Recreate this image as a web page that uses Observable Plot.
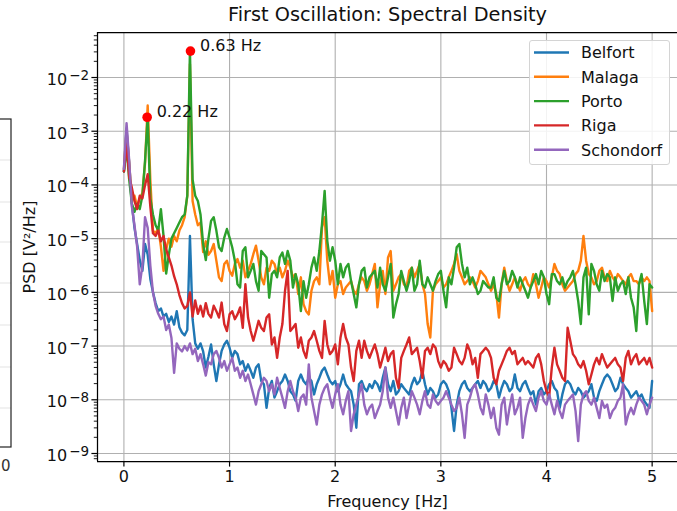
<!DOCTYPE html>
<html>
<head>
<meta charset="utf-8">
<script src="https://cdn.jsdelivr.net/npm/d3@7"></script>
<script src="https://cdn.jsdelivr.net/npm/@observablehq/plot@0.6"></script>
<style>
  html, body { margin: 0; padding: 0; background: #fff; }
  #wrap { position: relative; width: 677px; height: 511px; overflow: hidden; font-family: "DejaVu Sans", sans-serif; }
  #wrap > svg { position: absolute; left: 0; top: 0; }
  .legend { position: absolute; box-sizing: border-box; border: 1px solid #d4d4d4; border-radius: 3px; background: rgba(255,255,255,0.85); }
</style>
</head>
<body>
<div id="wrap"></div>
<script>
// ---------------- data ----------------
const title = "First Oscillation: Spectral Density";
const xLabel = "Frequency [Hz]";
const yLabel = "PSD [V²/Hz]";
const seriesNames = ["Belfort", "Malaga", "Porto", "Riga", "Schondorf"];
const seriesColors = ["#1f77b4", "#ff7f0e", "#2ca02c", "#d62728", "#9467bd"];
const freqStep = 0.025;          // Hz between spectral bins (0 … 5 Hz)
const xTicks = [0, 1, 2, 3, 4, 5];
const yExponents = [-9, -8, -7, -6, -5, -4, -3, -2];
const minorMultipliers = [2, 3, 4, 5, 6, 7, 8, 9];
const peakFreqs = [0.22, 0.63];
const peakPsd = [1.82e-3, 3.1e-2];

// log10(PSD), one value per bin
const belfortLog = [
  -3.75,-2.95,-3.6,-4.35,-4.8,-5.1,-5.4,-5.6,-5.1,-5.3,-5.75,-6.0,-6.2,-6.35,-6.3,-6.45,-6.4,-6.55,-6.45,-6.6,-6.35,-6.65,-6.75,-6.8,-6.7,-4.95,-6.5,-6.95,-7.05,-6.95,-7.1,-7.4,-7.2,
  -6.97,-7.34,-7.65,-7.34,-7.09,-6.97,-6.90,-7.03,-7.22,-7.09,-7.15,-7.34,-7.28,-7.46,-7.34,-7.46,-7.59,-7.40,-7.34,-7.65,-7.71,-8.15,-7.78,-7.65,-7.96,-7.84,-7.71,-7.65,-7.53,-7.65,-7.84,-7.90,-8.02,-7.65,
  -7.53,-7.65,-7.71,-7.59,-7.65,-7.90,-7.71,-7.59,-7.46,-7.40,-7.53,-7.65,-7.71,-7.65,-7.84,-7.71,-7.53,-7.71,-7.78,-7.84,-8.09,-8.52,-7.71,-7.65,-7.78,-7.84,-7.71,-7.78,-7.65,-7.71,-7.84,-7.59,-7.40,-7.71,
  -7.84,-7.65,-7.90,-7.84,-7.71,-7.78,-7.84,-7.90,-7.71,-7.59,-7.71,-7.65,-7.46,-7.71,-7.90,-7.78,-7.84,-7.96,-7.90,-7.71,-7.65,-7.71,-7.84,-8.15,-8.58,-8.09,-7.84,-7.71,-7.65,-7.78,-7.84,-7.78,-7.71,-7.65,
  -7.78,-7.65,-7.71,-7.84,-7.78,-7.65,-7.71,-7.96,-7.78,-7.65,-7.71,-7.84,-7.78,-7.53,-7.78,-7.84,-7.71,-7.65,-7.78,-7.90,-7.84,-8.09,-7.84,-7.78,-7.90,-7.84,-7.71,-7.65,-7.78,-7.84,-8.15,-7.90,-7.71,-7.65,
  -7.71,-7.84,-7.90,-7.78,-7.84,-7.96,-7.90,-7.84,-7.71,-7.96,-8.02,-7.84,-7.71,-7.59,-7.53,-7.59,-7.71,-7.84,-7.78,-7.59,-7.71,-7.78,-7.84,-7.96,-7.90,-7.84,-7.96,-7.90,-8.02,-8.09,-8.15,-7.65
];
const malagaLog = [
  -3.7,-3.0,-3.6,-4.3,-4.2,-4.4,-4.25,-4.15,-3.6,-2.52,-3.9,-4.85,-4.9,-4.8,-5.15,-5.6,-5.2,-5.0,-5.15,-4.95,-5.05,-4.85,-4.75,-4.6,-4.2,-1.75,-4.3,-4.55,-4.75,-4.7,-5.25,-5.05,-5.3,
  -5.23,-5.10,-5.41,-5.72,-5.79,-5.47,-5.41,-5.60,-5.69,-5.47,-5.38,-5.54,-5.41,-5.72,-5.60,-5.47,-5.29,-5.13,-5.41,-5.72,-5.85,-5.54,-5.60,-5.41,-5.47,-5.66,-5.54,-5.72,-5.60,-5.41,-5.54,-5.72,-5.66,-6.03,
  -5.72,-6.22,-6.35,-6.41,-5.97,-5.79,-5.72,-5.85,-4.79,-4.60,-5.41,-5.85,-5.60,-6.10,-5.85,-5.79,-6.03,-5.91,-5.85,-5.79,-5.97,-6.03,-5.85,-5.72,-5.79,-5.97,-5.85,-5.66,-5.47,-6.28,-5.85,-5.60,-6.03,-5.35,
  -5.23,-5.97,-5.85,-5.72,-5.66,-5.85,-5.91,-5.60,-5.54,-5.72,-5.60,-5.47,-5.85,-6.03,-6.59,-6.84,-5.97,-5.85,-5.79,-5.72,-5.91,-5.85,-5.72,-5.60,-5.47,-5.29,-5.60,-5.72,-5.85,-5.79,-5.72,-5.79,-5.91,-5.79,
  -5.60,-5.66,-5.72,-5.85,-5.97,-5.85,-6.03,-6.47,-5.85,-5.54,-5.79,-5.97,-5.85,-5.72,-5.85,-5.97,-5.79,-5.72,-5.85,-5.91,-5.66,-5.85,-6.10,-5.91,-5.72,-5.79,-5.91,-5.72,-5.47,-5.60,-5.66,-5.85,-5.97,-5.91,
  -5.85,-5.79,-5.66,-5.60,-5.41,-4.95,-5.41,-5.66,-5.72,-5.85,-5.79,-5.60,-5.54,-5.72,-5.79,-5.60,-5.72,-5.79,-5.66,-5.72,-5.79,-5.85,-5.72,-5.66,-5.79,-5.79,-5.85,-5.72,-5.79,-5.72,-5.79,-6.35
];
const portoLog = [
  -3.75,-3.3,-3.9,-4.35,-4.5,-4.35,-4.45,-4.2,-3.55,-2.73,-4.25,-4.55,-4.75,-4.85,-4.45,-4.95,-5.65,-5.3,-5.0,-4.9,-4.8,-4.7,-4.6,-4.55,-4.2,-1.5,-3.9,-4.2,-4.3,-4.55,-5.1,-5.4,-5.0,
  -4.67,-4.60,-4.85,-5.16,-5.23,-4.98,-4.82,-4.98,-5.16,-5.41,-5.85,-5.91,-5.23,-5.16,-5.72,-5.60,-5.47,-5.79,-5.97,-5.23,-5.29,-5.35,-6.10,-5.66,-5.60,-5.72,-5.35,-5.26,-5.47,-5.23,-5.41,-5.91,-5.66,-5.85,
  -6.35,-5.79,-6.10,-5.85,-5.54,-5.35,-5.60,-5.23,-4.73,-4.11,-5.04,-5.41,-5.16,-5.41,-5.85,-5.47,-5.72,-5.54,-5.47,-5.79,-6.03,-6.28,-5.85,-5.60,-5.54,-5.91,-5.72,-5.66,-5.60,-5.91,-5.54,-5.85,-5.97,-5.72,
  -5.47,-6.47,-6.22,-6.03,-5.60,-5.79,-5.97,-5.79,-5.54,-5.97,-5.85,-5.41,-5.85,-5.91,-5.72,-5.85,-5.97,-5.79,-5.66,-5.60,-5.97,-6.28,-5.72,-5.85,-5.54,-5.16,-5.10,-5.47,-5.72,-5.54,-5.85,-5.72,-5.85,-6.03,
  -5.97,-5.79,-5.85,-5.91,-5.91,-5.72,-6.10,-6.16,-5.85,-5.60,-5.85,-5.79,-5.60,-5.72,-5.91,-5.72,-5.85,-5.97,-6.10,-5.91,-5.79,-5.66,-5.85,-5.60,-5.72,-6.03,-6.22,-5.66,-5.66,-5.79,-5.85,-5.72,-5.91,-5.79,
  -5.72,-5.60,-5.85,-6.16,-6.59,-5.72,-5.54,-6.41,-5.47,-5.60,-5.85,-5.97,-5.60,-5.79,-5.66,-5.72,-6.16,-5.72,-5.97,-5.85,-5.79,-6.03,-5.72,-6.10,-6.28,-6.72,-5.85,-5.66,-6.16,-6.59,-5.85,-5.91
];
const rigaLog = [
  -3.75,-3.2,-3.85,-4.05,-4.3,-4.45,-4.2,-4.25,-4.0,-3.8,-4.4,-4.9,-4.95,-4.85,-5.05,-4.95,-5.2,-5.35,-5.5,-5.7,-5.85,-6.05,-6.2,-6.3,-6.25,-6.0,-6.45,-6.15,-6.4,-6.25,-6.45,-6.2,-6.4,
  -6.47,-6.25,-6.35,-6.47,-6.19,-6.59,-6.72,-6.41,-6.35,-6.50,-6.41,-6.28,-6.66,-5.85,-6.47,-6.72,-6.90,-6.72,-6.53,-6.66,-6.72,-6.47,-6.41,-6.97,-6.84,-7.22,-6.84,-6.59,-5.97,-5.60,-6.72,-6.66,-6.59,-7.03,
  -6.84,-7.09,-7.22,-6.90,-6.84,-6.72,-6.90,-7.09,-7.22,-6.53,-6.97,-7.15,-7.09,-6.97,-7.34,-6.84,-6.59,-6.84,-6.97,-7.40,-7.65,-7.09,-6.90,-7.22,-6.90,-7.09,-7.22,-7.09,-6.97,-7.15,-7.40,-7.22,-7.03,-7.28,
  -7.15,-7.09,-7.59,-7.78,-7.22,-7.09,-6.97,-6.84,-7.15,-7.09,-7.03,-7.28,-7.59,-7.09,-7.03,-7.15,-6.97,-7.03,-7.28,-7.40,-7.28,-7.34,-7.46,-7.40,-7.03,-7.15,-7.28,-7.34,-7.22,-6.97,-7.09,-7.34,-7.22,-7.59,
  -7.15,-7.09,-7.03,-7.09,-7.22,-7.59,-7.71,-7.46,-7.34,-7.22,-7.09,-7.03,-7.15,-7.09,-7.34,-7.28,-7.22,-7.34,-7.28,-7.34,-7.40,-7.22,-7.15,-7.34,-7.65,-7.84,-7.95,-7.40,-7.03,-7.34,-7.46,-7.59,-7.65,-6.66,
  -6.90,-7.15,-7.22,-7.34,-7.40,-7.28,-7.46,-7.71,-7.53,-7.34,-7.22,-7.34,-7.15,-7.28,-7.40,-7.34,-7.28,-7.22,-7.34,-7.40,-7.65,-7.22,-7.09,-7.34,-7.22,-7.15,-7.34,-7.28,-7.22,-7.34,-7.22,-7.40
];
const schondorfLog = [
  -3.70,-2.85,-3.55,-4.40,-4.75,-5.15,-5.85,-5.50,-4.60,-4.80,-5.50,-6.00,-6.25,-6.40,-6.50,-6.45,-6.70,-6.60,-6.85,-7.50,-6.95,-7.05,-7.10,-7.00,-7.08,-6.95,-7.15,-7.05,-7.28,-7.15,-7.34,-7.55,-7.30,
  -7.34,-7.15,-7.09,-7.22,-7.40,-7.28,-7.46,-7.34,-7.22,-7.46,-7.40,-7.59,-7.46,-7.65,-7.53,-7.71,-7.90,-8.09,-7.84,-7.71,-7.59,-7.65,-7.84,-7.71,-7.90,-7.59,-7.78,-7.96,-8.15,-7.84,-7.65,-7.84,-7.96,-8.21,
  -7.96,-7.90,-8.09,-7.34,-7.96,-8.21,-8.46,-8.09,-7.90,-7.78,-7.71,-7.96,-8.15,-7.90,-7.71,-8.09,-8.27,-8.02,-7.84,-8.58,-8.27,-8.09,-7.90,-7.71,-8.09,-8.27,-8.15,-8.09,-8.34,-8.21,-8.09,-7.84,-7.40,-7.96,
  -8.15,-7.96,-8.21,-8.46,-8.15,-7.96,-8.34,-8.09,-7.84,-7.96,-8.09,-8.27,-8.02,-7.84,-8.09,-8.15,-7.90,-8.02,-8.09,-8.02,-7.96,-7.84,-7.96,-8.09,-8.21,-8.15,-7.96,-8.27,-8.71,-8.09,-7.96,-7.78,-7.71,-7.90,
  -8.15,-8.27,-7.90,-8.09,-8.34,-8.15,-8.52,-8.65,-8.09,-7.96,-8.46,-8.15,-7.90,-8.27,-8.15,-7.96,-8.71,-8.34,-8.09,-7.96,-8.09,-8.21,-7.96,-7.84,-8.02,-8.09,-7.90,-8.09,-8.27,-8.02,-8.21,-8.34,-8.09,-8.02,
  -7.96,-7.90,-8.21,-8.77,-8.09,-7.90,-7.84,-8.02,-8.09,-7.96,-8.15,-8.34,-8.02,-8.15,-8.09,-8.34,-8.21,-8.15,-8.02,-7.96,-7.71,-8.46,-8.27,-8.15,-8.27,-8.09,-7.96,-8.02,-8.09,-8.27,-8.09,-7.96
];
const seriesLog = [belfortLog, malagaLog, portoLog, rigaLog, schondorfLog];

// ---------------- build tables ----------------
const seriesRows = seriesLog.map((vals, s) =>
  vals.map((v, i) => ({name: seriesNames[s], f: +(i * freqStep).toFixed(3), psd: Math.pow(10, v)}))
);
const peaks = peakFreqs.map((f, i) => ({f, psd: peakPsd[i], label: f.toFixed(2) + " Hz"}));
const yMajor = yExponents.map(e => Math.pow(10, e));
const yMinor = [];
for (let e = -10; e <= -2; e++) for (const m of minorMultipliers) yMinor.push(m * Math.pow(10, e));

const xDomain = [-0.25, 5.24];
const yDomain = [Math.pow(10, -9.149), Math.pow(10, -1.162)];
const yMinorIn = yMinor.filter(v => v >= yDomain[0] && v <= yDomain[1]);

const W = 677, H = 511;
const font = "DejaVu Sans";
const textColor = "#111";

const marks = [
  Plot.gridX(xTicks, {stroke: "#b0b0b0", strokeOpacity: 1, strokeWidth: 1.1}),
  Plot.gridY(yMajor, {stroke: "#b0b0b0", strokeOpacity: 1, strokeWidth: 1.1}),
];
seriesRows.forEach((rows, s) => {
  marks.push(Plot.line(rows, {x: "f", y: "psd", stroke: seriesColors[s], strokeWidth: 2.4, strokeLinejoin: "round"}));
});
marks.push(
  Plot.dot(peaks, {x: "f", y: "psd", r: 4.8, fill: "#ff0000", stroke: "none"}),
  Plot.text(peaks, {x: "f", y: "psd", text: "label", dx: 9.5, textAnchor: "start", lineAnchor: "bottom", fontSize: 16, fill: textColor}),
  // spines
  Plot.ruleY([yDomain[1]], {stroke: "#000", strokeWidth: 1.25}),
  Plot.ruleY([yDomain[0]], {stroke: "#000", strokeWidth: 1.25}),
  Plot.ruleX([xDomain[0]], {stroke: "#000", strokeWidth: 1.25}),
  // axes
  Plot.axisX({ticks: xTicks, tickSize: 5.6, tickPadding: 3.6, tickFormat: d => String(d), label: null, fontSize: 16, stroke: "#000", strokeWidth: 1.2, fill: textColor}),
  Plot.axisY({ticks: yMajor, tickSize: 5.6, tickFormat: () => "", label: null, stroke: "#000", strokeWidth: 1.2}),
  Plot.axisY({ticks: yMinorIn, tickSize: 3.2, tickFormat: () => "", label: null, stroke: "#000", strokeWidth: 0.9}),
  Plot.text(yMajor, {frameAnchor: "left", y: d => d, text: () => "10", textAnchor: "end", lineAnchor: "bottom", dx: -30.3, dy: 7.5, fontSize: 16, fill: textColor}),
  Plot.text(yMajor, {frameAnchor: "left", y: d => d, text: d => "\u2212" + Math.abs(Math.round(Math.log10(d))), textAnchor: "start", lineAnchor: "bottom", dx: -28.3, dy: 2.2, fontSize: 13.5, fill: textColor}),
  // labels
  Plot.text([xLabel], {frameAnchor: "bottom", text: d => d, dy: 45, lineAnchor: "bottom", textAnchor: "middle", fontSize: 16, fill: textColor}),
  Plot.text([yLabel], {frameAnchor: "left", text: d => d, rotate: -90, dx: -63, lineAnchor: "bottom", textAnchor: "middle", fontSize: 16, fill: textColor}),
  Plot.text([title], {frameAnchor: "top", text: d => d, dy: -11.3, lineAnchor: "bottom", textAnchor: "middle", fontSize: 19.3, fill: textColor})
);

const chart = Plot.plot({
  width: W, height: H,
  marginLeft: 97, marginTop: 32, marginBottom: 50, marginRight: 0,
  style: {fontFamily: font, fontSize: "16px", color: "#000", background: "transparent", overflow: "visible"},
  x: {domain: xDomain, label: null},
  y: {type: "log", domain: yDomain, label: null},
  marks
});
const wrap = document.getElementById("wrap");
wrap.appendChild(chart);

// ---------------- partial neighbouring panel (cut off at the left edge) ----------------
const NS = "http://www.w3.org/2000/svg";
const side = document.createElementNS(NS, "svg");
side.setAttribute("width", 24); side.setAttribute("height", H);
side.style.position = "absolute"; side.style.left = "0px"; side.style.top = "0px";
const sideGrid = [160, 202, 242, 283, 325, 367, 408];
sideGrid.forEach(y => {
  const l = document.createElementNS(NS, "line");
  l.setAttribute("x1", 0); l.setAttribute("x2", 11); l.setAttribute("y1", y); l.setAttribute("y2", y);
  l.setAttribute("stroke", "#e3e3e3"); l.setAttribute("stroke-width", 1);
  side.appendChild(l);
});
const fr = document.createElementNS(NS, "rect");
fr.setAttribute("x", -2); fr.setAttribute("y", 119); fr.setAttribute("width", 13); fr.setAttribute("height", 328);
fr.setAttribute("fill", "none"); fr.setAttribute("stroke", "#222"); fr.setAttribute("stroke-width", 1.2);
side.appendChild(fr);
const z = document.createElementNS(NS, "text");
z.setAttribute("x", 1); z.setAttribute("y", 471); z.setAttribute("text-anchor", "start");
z.setAttribute("font-family", font); z.setAttribute("font-size", 15); z.setAttribute("fill", "#333");
z.textContent = "0";
side.appendChild(z);
wrap.appendChild(side);

// ---------------- legend ----------------
const leg = document.createElement("div");
leg.className = "legend";
leg.style.left = "529px"; leg.style.top = "40px"; leg.style.width = "141px"; leg.style.height = "125px";
const ls = document.createElementNS(NS, "svg");
ls.setAttribute("width", 141); ls.setAttribute("height", 125);
ls.style.position = "absolute"; ls.style.left = "-1px"; ls.style.top = "-1px";
seriesNames.forEach((name, i) => {
  const cy = 12.5 + 24.3 * i;
  const l = document.createElementNS(NS, "line");
  l.setAttribute("x1", 5); l.setAttribute("x2", 40); l.setAttribute("y1", cy); l.setAttribute("y2", cy);
  l.setAttribute("stroke", seriesColors[i]); l.setAttribute("stroke-width", 2.4);
  ls.appendChild(l);
  const t = document.createElementNS(NS, "text");
  t.setAttribute("x", 52); t.setAttribute("y", cy + 5.8);
  t.setAttribute("font-family", font); t.setAttribute("font-size", 16); t.setAttribute("fill", textColor);
  t.textContent = name;
  ls.appendChild(t);
});
leg.appendChild(ls);
wrap.appendChild(leg);
</script>
</body>
</html>
